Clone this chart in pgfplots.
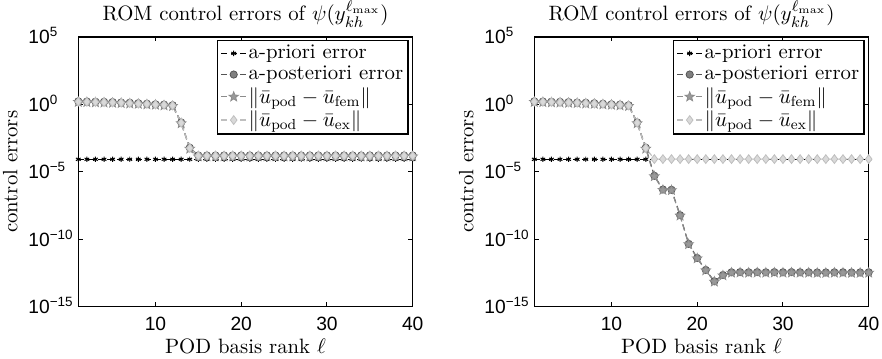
\documentclass[border=0pt]{standalone}
\usepackage{fontspec}
\usepackage{pgfplots}
\usepackage{pgfplotstable}
\pgfplotsset{compat=1.18}
\usetikzlibrary{plotmarks}
\newfontfamily\tickfont{Liberation Sans}
\newcommand\lf{\fontsize{10.8}{13}\selectfont}
\def\px{0.52pt}
\definecolor{cpost}{gray}{0.33}
\definecolor{cpostf}{gray}{0.5}
\definecolor{cfem}{gray}{0.55}
\definecolor{cfemf}{gray}{0.6}
\definecolor{cex}{gray}{0.75}
\definecolor{cexf}{gray}{0.85}

\pgfdeclareplotmark{pentagram*}{%
  \pgfpathmoveto{\pgfpointpolar{90}{1.0\pgfplotmarksize}}%
  \pgfpathlineto{\pgfpointpolar{126}{0.42\pgfplotmarksize}}%
  \pgfpathlineto{\pgfpointpolar{162}{1.0\pgfplotmarksize}}%
  \pgfpathlineto{\pgfpointpolar{198}{0.42\pgfplotmarksize}}%
  \pgfpathlineto{\pgfpointpolar{234}{1.0\pgfplotmarksize}}%
  \pgfpathlineto{\pgfpointpolar{270}{0.42\pgfplotmarksize}}%
  \pgfpathlineto{\pgfpointpolar{306}{1.0\pgfplotmarksize}}%
  \pgfpathlineto{\pgfpointpolar{342}{0.42\pgfplotmarksize}}%
  \pgfpathlineto{\pgfpointpolar{18}{1.0\pgfplotmarksize}}%
  \pgfpathlineto{\pgfpointpolar{54}{0.42\pgfplotmarksize}}%
  \pgfpathclose
  \pgfusepathqfillstroke
}

\pgfplotstableread{
x apri post fem ex
1 8.3e-5 1.65 1.45 1.55
2 8.3e-5 1.6 1.4 1.5
3 8.3e-5 1.55 1.35 1.45
4 8.3e-5 1.5 1.3 1.4
5 8.3e-5 1.45 1.25 1.35
6 8.3e-5 1.35 1.2 1.3
7 8.3e-5 1.3 1.1 1.2
8 8.3e-5 1.2 1.05 1.1
9 8.3e-5 1.1 0.95 1.05
10 8.3e-5 1.0 0.9 0.95
11 8.3e-5 0.95 0.8 0.9
12 8.3e-5 0.85 0.72 0.8
13 8.3e-5 0.045 0.038 0.042
14 8.3e-5 6e-4 5e-4 5.6e-4
15 8.3e-5 1.6e-4 1.35e-4 1.5e-4
16 8.3e-5 1.6e-4 1.35e-4 1.5e-4
17 8.3e-5 1.6e-4 1.35e-4 1.5e-4
18 8.3e-5 1.6e-4 1.35e-4 1.5e-4
19 8.3e-5 1.6e-4 1.35e-4 1.5e-4
20 8.3e-5 1.6e-4 1.35e-4 1.5e-4
21 8.3e-5 1.6e-4 1.35e-4 1.5e-4
22 8.3e-5 1.6e-4 1.35e-4 1.5e-4
23 8.3e-5 1.6e-4 1.35e-4 1.5e-4
24 8.3e-5 1.6e-4 1.35e-4 1.5e-4
25 8.3e-5 1.6e-4 1.35e-4 1.5e-4
26 8.3e-5 1.6e-4 1.35e-4 1.5e-4
27 8.3e-5 1.6e-4 1.35e-4 1.5e-4
28 8.3e-5 1.6e-4 1.35e-4 1.5e-4
29 8.3e-5 1.6e-4 1.35e-4 1.5e-4
30 8.3e-5 1.6e-4 1.35e-4 1.5e-4
31 8.3e-5 1.6e-4 1.35e-4 1.5e-4
32 8.3e-5 1.6e-4 1.35e-4 1.5e-4
33 8.3e-5 1.6e-4 1.35e-4 1.5e-4
34 8.3e-5 1.6e-4 1.35e-4 1.5e-4
35 8.3e-5 1.6e-4 1.35e-4 1.5e-4
36 8.3e-5 1.6e-4 1.35e-4 1.5e-4
37 8.3e-5 1.6e-4 1.35e-4 1.5e-4
38 8.3e-5 1.6e-4 1.35e-4 1.5e-4
39 8.3e-5 1.6e-4 1.35e-4 1.5e-4
40 8.3e-5 1.6e-4 1.35e-4 1.5e-4
}\Ldata

\pgfplotstableread{
x apri post fem ex
1 8.3e-5 1.65 1.45 1.55
2 8.3e-5 1.6 1.4 1.5
3 8.3e-5 1.55 1.35 1.45
4 8.3e-5 1.5 1.3 1.4
5 8.3e-5 1.45 1.25 1.35
6 8.3e-5 1.35 1.2 1.3
7 8.3e-5 1.3 1.1 1.2
8 8.3e-5 1.2 1.05 1.1
9 8.3e-5 1.1 0.95 1.05
10 8.3e-5 1.0 0.9 0.95
11 8.3e-5 0.95 0.8 0.9
12 8.3e-5 0.85 0.72 0.8
13 8.3e-5 0.045 0.038 0.042
14 8.3e-5 6e-4 5e-4 5.6e-4
15 8.3e-5 5e-6 4.5e-6 8.6e-5
16 8.3e-5 4.8e-7 4.4e-7 8.6e-5
17 8.3e-5 4.6e-7 4.2e-7 8.6e-5
18 8.3e-5 6e-9 5.5e-9 8.6e-5
19 8.3e-5 4.5e-11 4.2e-11 8.6e-5
20 8.3e-5 4e-12 3.7e-12 8.6e-5
21 8.3e-5 5.2e-13 4.8e-13 8.6e-5
22 8.3e-5 7.5e-14 7e-14 8.6e-5
23 8.3e-5 2.2e-13 2e-13 8.6e-5
24 8.3e-5 3.5e-13 3.2e-13 8.6e-5
25 8.3e-5 3.6e-13 3.3e-13 8.6e-5
26 8.3e-5 3.5e-13 3.2e-13 8.6e-5
27 8.3e-5 3.6e-13 3.3e-13 8.6e-5
28 8.3e-5 3.5e-13 3.2e-13 8.6e-5
29 8.3e-5 3.6e-13 3.3e-13 8.6e-5
30 8.3e-5 3.5e-13 3.2e-13 8.6e-5
31 8.3e-5 3.6e-13 3.3e-13 8.6e-5
32 8.3e-5 3.5e-13 3.2e-13 8.6e-5
33 8.3e-5 3.5e-13 3.2e-13 8.6e-5
34 8.3e-5 3.4e-13 3.1e-13 8.6e-5
35 8.3e-5 3.4e-13 3.1e-13 8.6e-5
36 8.3e-5 3.5e-13 3.2e-13 8.6e-5
37 8.3e-5 3.5e-13 3.2e-13 8.6e-5
38 8.3e-5 3.4e-13 3.1e-13 8.6e-5
39 8.3e-5 3.4e-13 3.1e-13 8.6e-5
40 8.3e-5 3.5e-13 3.2e-13 8.6e-5
}\Rdata

\pgfplotsset{
  legend image code/.code={\draw[mark repeat=2,mark phase=2,#1] plot coordinates {(0pt,0pt) (6.5pt,0pt) (13pt,0pt)};},
  sApri/.style={black, line width=0.6pt, dash pattern=on 3pt off 2pt, mark=asterisk, mark size=1.4pt, mark options={solid, line width=0.5pt}},
  sPost/.style={cpost, line width=0.6pt, dash pattern=on 3pt off 2pt, mark=*, mark size=1.9pt, mark options={solid, fill=cpostf, draw=cpost, line width=0.4pt}},
  sFem/.style={cfem, line width=0.6pt, dash pattern=on 3pt off 2pt, mark=pentagram*, mark size=2.6pt, mark options={solid, fill=cfemf, draw=cfem, line width=0.4pt}},
  sEx/.style={cex, line width=0.6pt, dash pattern=on 3pt off 2pt, mark=diamond*, mark size=2.3pt, mark options={solid, fill=cexf, draw=cex, line width=0.4pt}},
}

\begin{document}
\begin{tikzpicture}
\pgfplotsset{
    scale only axis, width=334.4*\px, height=269.8*\px,
    xmin=1, xmax=40, ymin=1e-15, ymax=1e5,
    xtick={10,20,30,40}, xticklabels={10,20,30,40},
    ytick={1e-15,1e-10,1e-5,1,1e5},
    yticklabels={{10\textsuperscript{−15}},{10\textsuperscript{−10}},{10\textsuperscript{−5}},{10\textsuperscript{0}},{10\textsuperscript{5}}},
    yminorticks=false, xminorticks=false,
    tick align=inside, major tick length=2.2pt,
    tick style={black, line width=0.5pt},
    axis line style={black, line width=0.75pt},
    ticklabel style={font=\tickfont},
    yticklabel style={anchor=base west, inner xsep=0pt, xshift=-50.3*\px, yshift=-3.6pt},
    xticklabel style={yshift=-2pt},
    every axis title shift=0pt,
    title style={font=\lf},
    label style={font=\lf},
    xlabel style={at={(axis description cs:0.5,0)}, anchor=base, yshift=-46.8*\px},
    ylabel style={at={(axis description cs:-0.1824,0.5)}, anchor=base},
    legend style={at={(axis description cs:1,1)}, anchor=north east,
      xshift=-4*\px, yshift=-3*\px, draw=black, line width=0.75pt,
      font=\lf, inner xsep=1.5pt, inner ysep=1.2pt, row sep=0pt,
      nodes={inner xsep=1pt, inner ysep=1.2pt}},
    legend cell align=left,
}
\begin{semilogyaxis}[at={(78.3*\px,-36.8*\px)}, anchor=north west,
  title={ROM control errors of $\psi(y_{kh}^{\ell_{\max}})$},
  xlabel={POD basis rank $\ell$}, ylabel={control errors},
  title style={at={(axis description cs:0.5,1)}, anchor=base, yshift=16.3*\px}]
\addplot[sApri] table[x=x,y=apri]{\Ldata};
\addplot[sPost] table[x=x,y=post]{\Ldata};
\addplot[sFem] table[x=x,y=fem]{\Ldata};
\addplot[sEx] table[x=x,y=ex]{\Ldata};
\legend{a-priori error, a-posteriori error, $\|\bar u_{\mathrm{pod}}-\bar u_{\mathrm{fem}}\|$, $\|\bar u_{\mathrm{pod}}-\bar u_{\mathrm{ex}}\|$}
\end{semilogyaxis}
\begin{semilogyaxis}[at={(534.3*\px,-36.8*\px)}, anchor=north west,
  title={ROM control errors of $\psi(y_{kh}^{\ell_{\max}})$},
  xlabel={POD basis rank $\ell$}, ylabel={control errors},
  title style={at={(axis description cs:0.5,1)}, anchor=base, yshift=16.3*\px, xshift=-10*\px}]
\addplot[sApri] table[x=x,y=apri]{\Rdata};
\addplot[sPost] table[x=x,y=post]{\Rdata};
\addplot[sFem] table[x=x,y=fem]{\Rdata};
\addplot[sEx] table[x=x,y=ex]{\Rdata};
\legend{a-priori error, a-posteriori error, $\|\bar u_{\mathrm{pod}}-\bar u_{\mathrm{fem}}\|$, $\|\bar u_{\mathrm{pod}}-\bar u_{\mathrm{ex}}\|$}
\end{semilogyaxis}
\pgfresetboundingbox
\useasboundingbox (0,0) rectangle (882*\px,-359*\px);
\end{tikzpicture}
\end{document}
